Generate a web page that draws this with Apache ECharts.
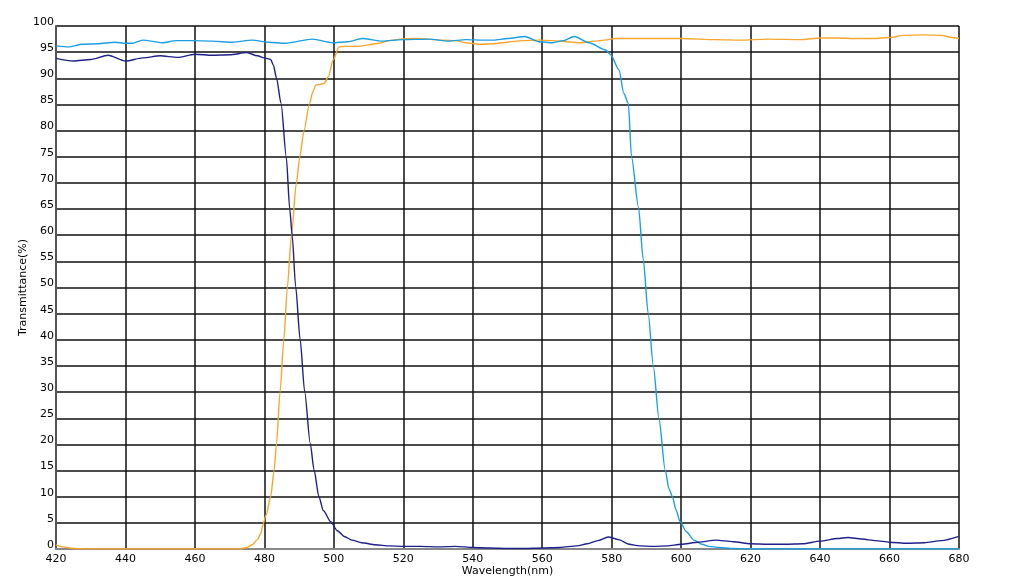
<!DOCTYPE html>
<html>
<head>
<meta charset="utf-8">
<script src="https://cdn.jsdelivr.net/npm/echarts@6/dist/echarts.min.js"></script>
<style>html,body{margin:0;padding:0;background:#fff;}#c{width:1016px;height:586px;}</style>
</head>
<body>
<div id="c"></div>
<script>
const xTicks = [420, 680, 20];
const yTicks = [0, 100, 5];
const xName = 'Wavelength(nm)';
const yName = 'Transmittance(%)';

const cyanCurve = [[420,96.2],[423.7,96.0],[427.5,96.5],[432,96.6],[437,96.9],[440,96.7],[442,96.7],[445,97.3],[450.6,96.8],[454.5,97.2],[460,97.2],[465,97.1],[470.8,96.9],[476.5,97.3],[481,96.9],[486,96.7],[493.8,97.5],[499.6,96.8],[504,97.0],[508.2,97.6],[514,97.1],[519.7,97.4],[527.4,97.5],[533,97.1],[538,97.4],[543,97.3],[546,97.3],[550,97.6],[555,98.0],[559.1,97.0],[563,96.8],[566,97.2],[569.2,98.0],[573.5,96.8],[578.3,95.4],[579.7,94.5],[582.1,91.6],[583.5,87.1],[584.8,85.2],[585.7,75],[587.7,65.4],[589.1,55.3],[590.5,45.1],[592.0,34.9],[593.6,25.0],[595.4,15.1],[596.5,11.5],[597.5,10],[598.5,7.5],[599.7,5.2],[601.5,3.3],[603.7,1.7],[606,0.9],[608,0.5],[611,0.3],[615,0.1],[620,0],[680,0]];

const navyCurve = [[420,93.8],[425,93.3],[430,93.6],[435,94.4],[440,93.3],[445,93.9],[450,94.3],[455,94.0],[460,94.6],[465,94.4],[470,94.5],[475,94.9],[478,94.3],[480,93.9],[481.8,93.6],[482.6,92.5],[483.5,90],[484.8,85.2],[486.3,75],[487.3,65],[488,60],[489,50.2],[490.3,40],[491.6,30.1],[493.2,20.2],[494.3,15.1],[495.7,10],[497,7.3],[499.1,5.2],[501,3.5],[503,2.4],[505.2,1.7],[508,1.2],[512,0.8],[516,0.6],[520,0.5],[525,0.5],[530,0.4],[535,0.5],[540,0.3],[545,0.2],[550,0.1],[555,0.1],[560,0.2],[565,0.3],[570,0.6],[573,1.0],[576,1.6],[579,2.3],[582,1.8],[585,0.9],[588,0.6],[592,0.5],[596,0.6],[600,0.9],[605,1.3],[610,1.7],[615,1.4],[620,1.0],[625,0.9],[630,0.9],[635,1.0],[640,1.5],[645,2.0],[648,2.2],[652,1.9],[656,1.6],[660,1.3],[665,1.1],[670,1.2],[675,1.6],[680,2.4]];

const orangeCurve = [[420,0.8],[422,0.4],[425,0.1],[430,0],[473,0],[475,0.3],[476.5,0.8],[478,1.8],[479,3],[479.5,4.5],[480.5,6.5],[481.8,10],[482.8,15],[483.5,20.2],[484.5,30],[485.6,40],[486.6,50],[487.8,60],[489.2,70],[490.2,75],[491.4,80],[493,85.2],[494,87.5],[494.8,88.7],[497.2,89],[498.4,90.3],[499.8,93.5],[501.5,96],[503,96.1],[507.2,96.1],[510,96.4],[513,96.7],[516,97.2],[519,97.5],[523,97.6],[527,97.5],[531,97.3],[535,97.2],[538,96.8],[542,96.5],[546,96.6],[550,96.9],[554,97.2],[559,97.3],[563,97.2],[567,97.0],[571,96.8],[575,97.1],[578,97.3],[581,97.6],[590,97.6],[600,97.6],[610,97.4],[617,97.3],[625,97.5],[635,97.4],[640,97.7],[645,97.7],[650,97.6],[655,97.6],[660,97.8],[664,98.2],[670,98.3],[675,98.2],[678,97.8],[680,97.6]];

const chart = echarts.init(document.getElementById('c'), null, {renderer: 'canvas'});
const font = 'DejaVu Sans';
function lineSeries(data, color) {
  return {
    type: 'line', data: data, showSymbol: false, symbol: 'none',
    smooth: 0.25, smoothMonotone: 'x',
    lineStyle: {color: color, width: 1.4}, itemStyle: {color: color}
  };
}
chart.setOption({
  animation: false,
  backgroundColor: '#fff',
  grid: {left: 56, right: 57, top: 26, bottom: 37},
  xAxis: {
    type: 'value', min: xTicks[0], max: xTicks[1], interval: xTicks[2],
    name: xName, nameLocation: 'middle', nameGap: 17, nameMoveOverlap: false,
    nameTextStyle: {fontFamily: font, fontSize: 11, color: '#000'},
    axisLine: {show: true, lineStyle: {color: '#888', width: 2}},
    axisTick: {show: false},
    axisLabel: {fontFamily: font, fontSize: 11, color: '#000', margin: 5},
    splitLine: {show: true, lineStyle: {color: '#111', width: 1.5}}
  },
  yAxis: {
    type: 'value', min: yTicks[0], max: yTicks[1], interval: yTicks[2],
    name: yName, nameLocation: 'middle', nameGap: 27, nameMoveOverlap: false,
    nameTextStyle: {fontFamily: font, fontSize: 11, color: '#000'},
    axisLine: {show: true, lineStyle: {color: '#555', width: 2}},
    axisTick: {show: false},
    axisLabel: {fontFamily: font, fontSize: 11, color: '#000', margin: 2, verticalAlign: 'bottom', lineHeight: 8},
    splitLine: {show: true, lineStyle: {color: '#111', width: 1.5}}
  },
  series: [
    lineSeries(orangeCurve, '#f9a52c'),
    lineSeries(cyanCurve, '#1a9fe3'),
    lineSeries(navyCurve, '#1f1f8a')
  ]
});
</script>
</body>
</html>
